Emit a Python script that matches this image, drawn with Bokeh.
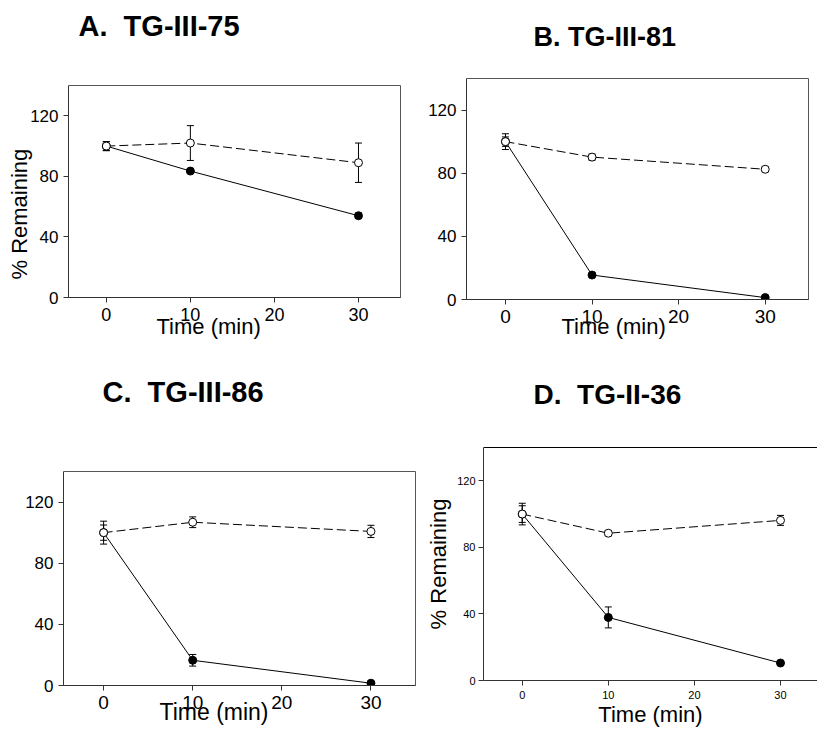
from math import pi
from bokeh.plotting import figure
from bokeh.models import (Title, Whisker, TeeHead, ColumnDataSource,
                          FixedTicker, Range1d, LinearAxis)
from bokeh.embed import file_html
from bokeh.resources import INLINE

# ---------------- data ----------------
time_min = [0, 10, 30]
x_ticks = [0, 10, 20, 30]
y_ticks = [0, 40, 80, 120]

a_title = "A.\u00a0 TG-III-75"
a_ctrl = [100, 102, 89]
a_ctrl_err = [3, 11.5, 13]
a_drug = [100, 83.5, 54]
a_drug_err = [3, 1, 1.8]

b_title = "B. TG-III-81"
b_ctrl = [100, 90.2, 82.5]
b_ctrl_err = [3, 1.9, 1.5]
b_drug = [100, 15.5, 1.2]
b_drug_err = [5, 1, 0.5]

c_title = "C.\u00a0 TG-III-86"
c_ctrl = [100, 106.8, 100.8]
c_ctrl_err = [7.5, 3.5, 4]
c_drug = [100, 16.5, 1.5]
c_drug_err = [5, 3.8, 0.5]

d_title = "D.\u00a0 TG-II-36"
d_ctrl = [100, 88.5, 96.2]
d_ctrl_err = [6.5, 1.5, 3]
d_drug = [100, 37.9, 10.5]
d_drug_err = [5, 6.3, 1]

x_label = "Time (min)"
y_label = "% Remaining"

FONT = "Liberation Sans"


def make_panel(title, ctrl, ctrl_err, drug, drug_err, pos, size, borders,
               x_end, title_size, title_offset, title_gap, tick_x, tick_y,
               y_standoff, frame_color, xlab=None, ylab=None,
               xaxis_label=None, yaxis_label=None, top_line=False):
    left, right, top, bottom = borders
    p = figure(width=size[0], height=size[1], output_backend="svg",
               toolbar_location=None, x_range=Range1d(-4.5, x_end),
               y_range=Range1d(0, 140), min_border_left=left,
               min_border_right=right, min_border_top=top,
               min_border_bottom=bottom)
    p.styles = {"position": "absolute", "left": f"{pos[0]}px",
                "top": f"{pos[1]}px"}
    p.title.text = title
    p.title.align = "left"
    p.title.offset = title_offset
    p.title.standoff = 0
    p.title.text_font = FONT
    p.title.text_font_style = "bold"
    p.title.text_font_size = title_size
    p.title.text_color = "black"
    p.xgrid.visible = False
    p.ygrid.visible = False
    p.background_fill_color = "white"
    p.border_fill_color = "white"

    xa = p.below[0]
    ya = p.left[0]
    for axis, ticks, fs in ((xa, x_ticks, tick_x), (ya, y_ticks, tick_y)):
        axis.ticker = FixedTicker(ticks=ticks)
        axis.minor_tick_line_color = None
        axis.minor_tick_out = 0
        axis.major_tick_in = 0
        axis.major_tick_out = 5
        axis.major_tick_line_color = "#333333"
        axis.axis_line_color = "#333333"
        axis.major_label_text_font = FONT
        axis.major_label_text_font_size = fs
        axis.major_label_text_color = "black"
        axis.major_label_standoff = 5
    ya.major_label_standoff = y_standoff

    if xaxis_label is not None:
        fs, st = xaxis_label
        xa.axis_label = x_label
        xa.axis_label_text_font = FONT
        xa.axis_label_text_font_style = "normal"
        xa.axis_label_text_font_size = fs
        xa.axis_label_standoff = st
        xa.axis_label_text_color = "black"
    if yaxis_label is not None:
        fs, st = yaxis_label
        ya.axis_label = y_label
        ya.axis_label_text_font = FONT
        ya.axis_label_text_font_style = "normal"
        ya.axis_label_text_font_size = fs
        ya.axis_label_standoff = st
        ya.axis_label_text_color = "black"

    # spacer axis above the frame: its (white, invisible) tick pushes the
    # panel title upwards
    spacer = LinearAxis(ticker=FixedTicker(ticks=[-4.5]),
                        major_tick_out=title_gap, major_tick_in=0,
                        minor_tick_out=0, minor_tick_in=0,
                        major_tick_line_color="white",
                        minor_tick_line_color=None,
                        major_label_text_font_size="0px",
                        major_label_text_color=None,
                        major_label_standoff=0,
                        axis_line_color=frame_color if top_line else None)
    p.add_layout(spacer, "above")

    if top_line:
        p.outline_line_color = None
    else:
        p.outline_line_color = frame_color
        p.outline_line_width = 1
        p.outline_line_alpha = 1

    if xlab is not None:
        fs, off, st = xlab
        p.add_layout(Title(text=x_label, align="left", offset=off,
                           standoff=st, vertical_align="top",
                           text_font=FONT, text_font_style="normal",
                           text_font_size=fs, text_color="black"), "below")
    if ylab is not None:
        fs, off, st = ylab
        p.add_layout(Title(text=y_label, align="left", offset=off,
                           standoff=st, vertical_align="bottom",
                           text_font=FONT, text_font_style="normal",
                           text_font_size=fs, text_color="black"), "left")

    src_c = ColumnDataSource(dict(x=time_min, y=ctrl,
                                  lo=[v - e for v, e in zip(ctrl, ctrl_err)],
                                  hi=[v + e for v, e in zip(ctrl, ctrl_err)]))
    src_d = ColumnDataSource(dict(x=time_min, y=drug,
                                  lo=[v - e for v, e in zip(drug, drug_err)],
                                  hi=[v + e for v, e in zip(drug, drug_err)]))
    for src in (src_c, src_d):
        w = Whisker(source=src, base="x", upper="hi", lower="lo",
                    dimension="height", line_color="black", line_width=1,
                    upper_head=TeeHead(size=7, line_color="black", line_width=1),
                    lower_head=TeeHead(size=7, line_color="black", line_width=1),
                    level="underlay")
        p.add_layout(w)

    p.line("x", "y", source=src_d, line_color="black", line_width=1)
    p.line("x", "y", source=src_c, line_color="black", line_width=1,
           line_dash="9 4")
    p.scatter("x", "y", source=src_d, size=8, marker="circle",
              fill_color="black", line_color="black")
    p.scatter("x", "y", source=src_c, size=8, marker="circle",
              fill_color="white", line_color="black", line_width=1)
    return p


pa = make_panel(a_title, a_ctrl, a_ctrl_err, a_drug, a_drug_err,
                pos=(0, 0), size=(410, 360), borders=(68, 10, 85, 63),
                x_end=35, title_size="29px", title_offset=10, title_gap=44,
                tick_x="18px", tick_y="17px", y_standoff=5,
                frame_color="#555555",
                xlab=("22px", 88, -20), ylab=("22px", 18, -9))
pb = make_panel(b_title, b_ctrl, b_ctrl_err, b_drug, b_drug_err,
                pos=(410, 0), size=(407, 360), borders=(56, 9, 78, 61),
                x_end=35, title_size="27px", title_offset=67, title_gap=27,
                tick_x="19px", tick_y="17px", y_standoff=5,
                frame_color="#555555",
                xlab=("22px", 95, -23))
pc = make_panel(c_title, c_ctrl, c_ctrl_err, c_drug, c_drug_err,
                pos=(0, 360), size=(420, 369), borders=(63, 5, 111, 44),
                x_end=35, title_size="29px", title_offset=39, title_gap=64,
                tick_x="19px", tick_y="17px", y_standoff=5,
                frame_color="#555555",
                xlab=("23px", 96, -26))
pd = make_panel(d_title, d_ctrl, d_ctrl_err, d_drug, d_drug_err,
                pos=(420, 360), size=(397, 369), borders=(63, 0, 87, 48),
                x_end=34.3, title_size="28px", title_offset=50, title_gap=38,
                tick_x="11px", tick_y="11px", y_standoff=3,
                frame_color="black",
                xaxis_label=("22px", 0), yaxis_label=("22px", 3),
                top_line=True)

open("out.html", "w").write(file_html([pa, pb, pc, pd], INLINE))
